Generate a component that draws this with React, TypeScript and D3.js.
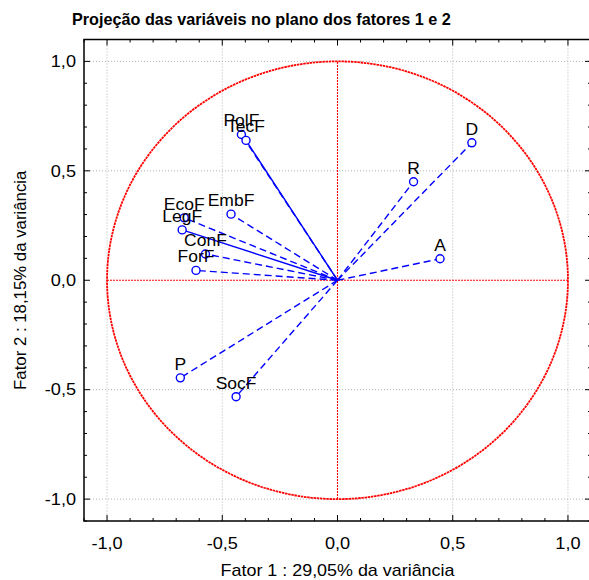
import * as d3 from "d3";
import { useEffect, useRef } from "react";

const WIDTH = 589;
const HEIGHT = 580;
// Plot frame in pixels; the right edge runs just past the picture.
const FRAME = { left: 84, right: 591, top: 39.5, bottom: 521 };

const TITLE = "Projeção das variáveis no plano dos fatores 1 e 2";
const X_TITLE = "Fator 1 : 29,05% da variância";
const Y_TITLE = "Fator 2 : 18,15% da variância";

const NAMES = ["PolF", "TecF", "EmbF", "EcoF", "LegF", "ConF", "ForF", "P", "SocF", "R", "D", "A"];
const FACTOR1 = [-0.417, -0.397, -0.462, -0.665, -0.674, -0.573, -0.614, -0.682, -0.44, 0.33, 0.583, 0.445];
const FACTOR2 = [0.666, 0.639, 0.302, 0.285, 0.23, 0.12, 0.045, -0.446, -0.532, 0.45, 0.628, 0.098];
const SOLID = ["TecF", "LegF"];

const MAJOR = [-1, -0.5, 0, 0.5, 1];
const MINOR = d3.range(-11, 12).map((d) => d / 10);

const fmt = (d: number) => d.toFixed(1).replace(".", ",");

export default function App() {
  const ref = useRef<SVGSVGElement>(null);

  useEffect(() => {
    const svg = d3.select(ref.current);
    svg.selectAll("*").remove();
    const x = d3.scaleLinear().domain([-1.1, 1.1]).range([FRAME.left, FRAME.right]);
    const y = d3.scaleLinear().domain([-1.1, 1.1]).range([FRAME.bottom, FRAME.top]);
    const font = "'Liberation Sans', Arial, sans-serif";

    // dotted grid at the labelled values
    const grid = svg.append("g").attr("stroke", "#b4b4b4").attr("stroke-width", 1).attr("stroke-dasharray", "1,2");
    for (const v of MAJOR.filter((d) => d !== 0)) {
      grid.append("line").attr("x1", x(v)).attr("x2", x(v)).attr("y1", FRAME.top).attr("y2", FRAME.bottom);
      grid.append("line").attr("x1", FRAME.left).attr("x2", FRAME.right).attr("y1", y(v)).attr("y2", y(v));
    }

    // unit circle and the zero axes in red
    svg
      .append("ellipse")
      .attr("cx", x(0))
      .attr("cy", y(0))
      .attr("rx", x(1) - x(0))
      .attr("ry", y(0) - y(1))
      .attr("fill", "none")
      .attr("stroke", "#ff0000")
      .attr("stroke-width", 1.8)
      .attr("stroke-dasharray", "2.5,0.7");
    const zero = svg.append("g").attr("stroke", "#ff0000").attr("stroke-width", 1.1).attr("stroke-dasharray", "2,1");
    zero.append("line").attr("x1", x(-1)).attr("x2", x(1)).attr("y1", y(0)).attr("y2", y(0));
    zero.append("line").attr("x1", x(0)).attr("x2", x(0)).attr("y1", y(-1)).attr("y2", y(1));

    // frame with inward ticks on all four sides
    const frame = svg.append("g").attr("stroke", "#000");
    frame
      .append("rect")
      .attr("x", FRAME.left)
      .attr("y", FRAME.top)
      .attr("width", FRAME.right - FRAME.left)
      .attr("height", FRAME.bottom - FRAME.top)
      .attr("fill", "none")
      .attr("stroke-width", 1.5);
    for (const v of MINOR) {
      const len = MAJOR.some((m) => Math.abs(m - v) < 1e-9) ? 6 : 3;
      frame.append("line").attr("x1", x(v)).attr("x2", x(v)).attr("y1", FRAME.bottom).attr("y2", FRAME.bottom - len);
      frame.append("line").attr("x1", x(v)).attr("x2", x(v)).attr("y1", FRAME.top).attr("y2", FRAME.top + len);
      frame.append("line").attr("y1", y(v)).attr("y2", y(v)).attr("x1", FRAME.left).attr("x2", FRAME.left + len);
      frame.append("line").attr("y1", y(v)).attr("y2", y(v)).attr("x1", FRAME.right).attr("x2", FRAME.right - len);
    }

    // tick labels, stretched a little sideways like the source
    const ticks = svg.append("g").attr("font-family", font).attr("font-size", 16.5).attr("fill", "#000");
    for (const v of MAJOR) {
      ticks
        .append("text")
        .attr("transform", `translate(${x(v)},${FRAME.bottom + 28}) scale(1.1,1)`)
        .attr("text-anchor", "middle")
        .text(fmt(v));
      ticks
        .append("text")
        .attr("transform", `translate(${FRAME.left - 8},${y(v)}) scale(1.1,1)`)
        .attr("text-anchor", "end")
        .attr("dy", "0.35em")
        .text(fmt(v));
    }

    svg
      .append("text")
      .attr("transform", `translate(${x(0)},${HEIGHT - 4}) scale(1.12,1)`)
      .attr("text-anchor", "middle")
      .attr("font-family", font)
      .attr("font-size", 16)
      .text(X_TITLE);
    svg
      .append("text")
      .attr("transform", `translate(26,${y(0)}) rotate(-90) scale(1.05,1)`)
      .attr("text-anchor", "middle")
      .attr("font-family", font)
      .attr("font-size", 16)
      .text(Y_TITLE);
    svg
      .append("text")
      .attr("x", 72)
      .attr("y", 25)
      .attr("font-family", font)
      .attr("font-size", 16.2)
      .attr("font-weight", "bold")
      .text(TITLE);

    // loading vectors from the origin
    const vectors = svg.append("g").attr("stroke", "#0000ff").attr("stroke-width", 1.4).attr("fill", "none");
    NAMES.forEach((name, i) => {
      vectors
        .append("line")
        .attr("x1", x(0))
        .attr("y1", y(0))
        .attr("x2", x(FACTOR1[i]))
        .attr("y2", y(FACTOR2[i]))
        .attr("stroke-dasharray", SOLID.includes(name) ? null : "7,4");
    });
    const points = svg.append("g");
    NAMES.forEach((name, i) => {
      points
        .append("circle")
        .attr("cx", x(FACTOR1[i]))
        .attr("cy", y(FACTOR2[i]))
        .attr("r", 4)
        .attr("fill", "#fff")
        .attr("stroke", "#0000ff")
        .attr("stroke-width", 1.4);
    });
    const labels = svg.append("g").attr("font-family", font).attr("font-size", 16.5).attr("fill", "#000");
    NAMES.forEach((name, i) => {
      labels
        .append("text")
        .attr("transform", `translate(${x(FACTOR1[i])},${y(FACTOR2[i]) - 8}) scale(1.06,1)`)
        .attr("text-anchor", "middle")
        .text(name);
    });
  }, []);

  return (
    <svg
      ref={ref}
      width={WIDTH}
      height={HEIGHT}
      style={{ position: "absolute", left: 0, top: 0, background: "#fff" }}
      role="img"
      aria-label={TITLE}
    />
  );
}
